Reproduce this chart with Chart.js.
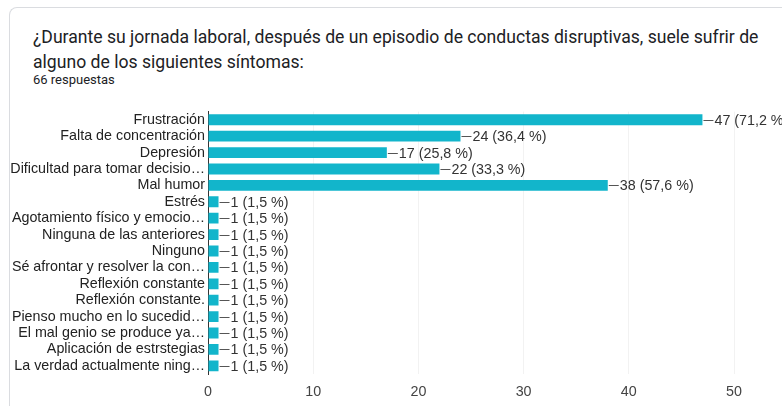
<!DOCTYPE html>
<html>
<head>
<meta charset="utf-8">
<script src="https://cdn.jsdelivr.net/npm/chart.js@4.4.0/dist/chart.umd.min.js"></script>
<style>
    html, body { margin: 0; padding: 0; background: #fff; overflow: hidden; }
    body { width: 782px; height: 406px; position: relative; }
    .card {
        position: absolute; left: 9px; top: 7px; width: 800px; height: 420px;
        border-top: 1px solid #dadce0; border-left: 1px solid #dadce0;
        border-radius: 8px 0 0 0;
    }
    .title {
        position: absolute; left: 33px; top: 25px; width: 745px;
        font-family: Roboto, sans-serif; font-size: 17.6px; line-height: 25px; color: #202124;
    }
    .count {
        position: absolute; left: 33px; top: 72px;
        font-family: Roboto, sans-serif; font-size: 13px; color: #202124;
    }
    #chart-wrap { position: absolute; left: 0; top: 100px; width: 782px; height: 306px; }
</style>
</head>
<body>
<div class="card"></div>
<div class="title">¿Durante su jornada laboral, después de un episodio de conductas disruptivas, suele sufrir de alguno de los siguientes síntomas:</div>
<div class="count">66 respuestas</div>
<div id="chart-wrap"><canvas id="chart"></canvas></div>
<script>
    // Data
    const categories = [
        'Frustración',
        'Falta de concentración',
        'Depresión',
        'Dificultad para tomar decisio…',
        'Mal humor',
        'Estrés',
        'Agotamiento físico y emocio…',
        'Ninguna de las anteriores',
        'Ninguno',
        'Sé afrontar y resolver la con…',
        'Reflexión constante',
        'Reflexión constante.',
        'Pienso mucho en lo sucedid…',
        'El mal genio se produce ya…',
        'Aplicación de estrstegias',
        'La verdad actualmente ning…'
    ];
    const counts = [47, 24, 17, 22, 38, 1, 1, 1, 1, 1, 1, 1, 1, 1, 1, 1];
    const percentLabels = ['71,2', '36,4', '25,8', '33,3', '57,6', '1,5', '1,5', '1,5', '1,5', '1,5', '1,5', '1,5', '1,5', '1,5', '1,5', '1,5'];
    const xTicks = [0, 10, 20, 30, 40, 50];

    const labelFont = '14.3px "Liberation Sans", Arial, sans-serif';

    // Draws "—47 (71,2 %)" after each bar
    const valueLabels = {
        id: 'valueLabels',
        afterDatasetsDraw(chart) {
            const ctx = chart.ctx;
            const meta = chart.getDatasetMeta(0);
            ctx.save();
            ctx.font = labelFont;
            ctx.textBaseline = 'middle';
            ctx.textAlign = 'left';
            meta.data.forEach((bar, i) => {
                const x = bar.x;
                const y = bar.y;
                ctx.strokeStyle = '#555';
                ctx.lineWidth = 1;
                ctx.beginPath();
                ctx.moveTo(x + 1, Math.round(y) + 0.5);
                ctx.lineTo(x + 11, Math.round(y) + 0.5);
                ctx.stroke();
                ctx.fillStyle = '#333';
                ctx.fillText(`${counts[i]} (${percentLabels[i]} %)`, x + 12, y + 1);
            });
            ctx.restore();
        }
    };

    new Chart(document.getElementById('chart'), {
        type: 'bar',
        data: {
            labels: categories,
            datasets: [{
                data: counts,
                backgroundColor: '#12b5cb',
                borderWidth: 0,
                categoryPercentage: 1,
                barPercentage: 0.66
            }]
        },
        options: {
            indexAxis: 'y',
            responsive: true,
            maintainAspectRatio: false,
            animation: false,
            layout: { padding: { top: 9, right: 48, left: 0, bottom: 0 } },
            plugins: {
                legend: { display: false },
                tooltip: { enabled: false }
            },
            scales: {
                x: {
                    min: 0,
                    max: 50,
                    afterBuildTicks: scale => { scale.ticks = xTicks.map(v => ({ value: v })); },
                    afterFit: scale => { scale.height = 32; },
                    grid: { color: '#f2f2f2', drawTicks: false },
                    border: { display: false },
                    ticks: {
                        font: { family: '"Liberation Sans", Arial, sans-serif', size: 14.3 },
                        color: '#444',
                        padding: 9
                    }
                },
                y: {
                    afterFit: scale => { scale.width = 208; },
                    grid: { display: false, drawTicks: false },
                    border: { display: true, color: '#333', width: 1 },
                    ticks: {
                        font: { family: '"Liberation Sans", Arial, sans-serif', size: 14.3 },
                        color: '#222',
                        padding: 3,
                        autoSkip: false
                    }
                }
            }
        },
        plugins: [valueLabels]
    });
</script>
</body>
</html>
